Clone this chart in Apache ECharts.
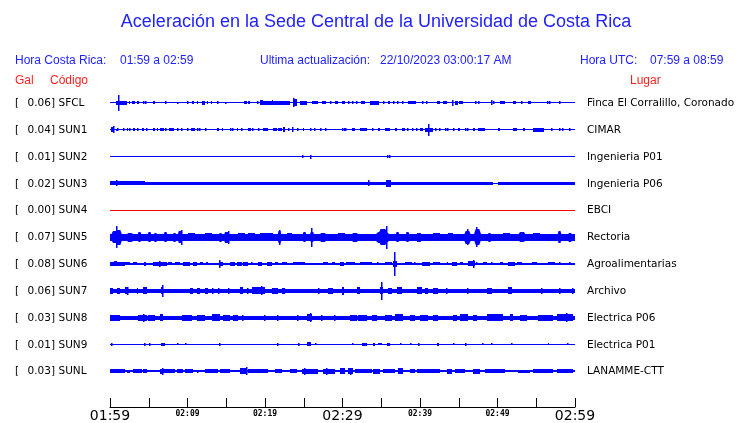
<!DOCTYPE html>
<html><head><meta charset="utf-8">
<script src="https://cdn.jsdelivr.net/npm/echarts@6/dist/echarts.min.js"></script>
<style>html,body{margin:0;padding:0;background:#fff}#c{width:740px;height:423px}</style>
</head><body><div id="c"></div>
<script>
// ---- DATA ----
const stations = ['SFCL','SUN1','SUN2','SUN3','SUN4','SUN5','SUN6','SUN7','SUN8','SUN9','SUNL'];
const galValues = ['0.06','0.04','0.01','0.02','0.00','0.07','0.08','0.06','0.03','0.01','0.03'];
const places = ['Finca El Corralillo, Coronado','CIMAR','Ingenieria P01','Ingenieria P06','EBCI','Rectoria','Agroalimentarias','Archivo','Electrica P06','Electrica P01','LANAMME-CTT'];
const tickLabels = ['01:59','','02:09','','02:19','','02:29','','02:39','','02:49','','02:59'];
// minutes after 01:59; baseline half-thickness of each trace
const baseAmp = [0.6,0.7,0.5,0.5,0.5,3.3,1,2,2,0.5,0.8];
// events: [start minute, end minute, half amplitude]
const evSFCL = [[0.77,2.19,2],[1.16,1.16,8],[2.40,2.55,1.5],[2.9,3.2,1.5],[3.5,3.7,1.5],[4.26,4.26,1.5],[4.52,4.52,1.5],[5.6,5.8,1.5],[7.1,7.1,1.5],[8.77,8.77,1.2],[9.94,9.94,1.5],[10.58,10.84,1.5],[11.23,11.3,1.5],[11.87,12.26,2],[12.52,12.6,1.5],[13.03,13.16,1.5],[13.81,13.81,1.5],[14.84,14.84,1.2],[17.29,17.7,1.5],[17.8,18.06,1.5],[18.97,18.97,1.5],[19.35,19.74,2.5],[19.74,23.23,1.8],[20.9,21.0,2.5],[22.2,22.3,2.2],[23.61,24.13,3.5],[23.74,23.74,4.5],[24.52,25.42,2],[26.06,26.84,1.5],[27.35,27.87,1.5],[28.39,28.39,1.5],[29.03,29.42,1.5],[29.94,30.32,1.5],[30.71,30.71,1.5],[31.35,31.35,1.5],[31.87,31.87,1.5],[32.39,32.9,1.5],[33.55,34.71,2],[35.23,35.23,1.5],[35.87,36.13,1.5],[36.52,36.52,1.5],[37.16,37.16,1.5],[37.68,37.68,1.5],[38.45,39.48,1.5],[40.26,40.26,1.5],[40.9,40.9,1.5],[42.19,42.58,1.5],[42.97,43.48,1.5],[44.13,44.13,3],[44.52,44.9,2],[45.03,45.55,1.5],[47.1,47.1,1.5],[47.61,47.61,1.5],[49.29,49.29,2.5],[49.42,49.42,1.5],[50.32,50.97,1.5],[52.0,52.39,1.5],[53.16,53.16,1.5],[53.94,54.32,1.5],[56.39,56.39,1.5],[56.77,56.77,1.5],[57.94,57.94,1.5]];
const evSUN1 = [[0.13,0.52,2.5],[0.39,0.39,3.5],[0.9,0.9,1],[1.03,1.03,1.5],[1.68,1.68,1.5],[2.19,2.32,1.5],[2.58,2.58,1.5],[2.97,3.23,1.5],[3.61,3.61,1.5],[4.13,4.39,1.5],[4.77,4.77,1.5],[5.55,5.81,1.5],[6.06,6.19,1.5],[6.45,6.97,1.5],[7.1,7.1,1.5],[7.61,8.26,1.5],[8.65,8.65,1.5],[9.29,9.29,1.5],[9.94,9.94,1.5],[10.45,10.97,1.5],[11.23,11.23,1.5],[11.61,11.61,1.5],[12.26,12.26,1.5],[13.81,14.06,1.5],[14.45,14.58,1.5],[15.61,15.61,1.5],[15.87,15.87,1.5],[16.39,16.52,1.5],[17.03,17.03,1.5],[17.81,18.19,1.5],[18.45,18.45,1.5],[19.1,19.1,1.5],[19.74,20.39,1.5],[21.03,21.55,1.5],[21.68,22.19,1.5],[22.32,22.58,2.5],[22.97,22.97,1.5],[23.61,23.61,2.5],[24.13,24.13,1.5],[24.9,25.03,1.5],[25.81,25.81,1.5],[26.45,26.45,1.5],[27.1,27.1,1.5],[27.87,27.87,1.5],[30.06,30.06,1.5],[30.32,30.32,1.5],[30.45,30.45,1.5],[31.23,31.61,1.5],[32.26,33.16,1.5],[33.81,33.81,1.5],[34.58,34.84,1.5],[35.48,36.13,1.5],[36.77,37.03,1.5],[37.68,38.06,1.5],[38.45,38.45,1.5],[38.97,38.97,1.5],[39.61,39.61,1.5],[40.0,40.39,1.5],[40.65,41.68,2],[41.16,41.16,6],[41.94,41.94,1.5],[42.58,42.58,1.5],[43.23,43.23,1.5],[43.61,43.61,1.5],[44.26,44.26,1.5],[44.9,45.16,1.5],[45.81,45.81,1.5],[46.19,46.19,1.5],[46.84,47.1,1.5],[47.48,48.39,1.5],[50.06,50.32,1.5],[52.0,52.52,1.5],[53.29,53.55,1.5],[54.58,56.0,2],[57.03,57.03,1.5],[58.06,58.06,1.5],[58.45,58.45,1.5],[59.35,59.35,1.5]];
const evSUN2 = [[24.9,24.9,1.5],[25.81,25.81,1.8],[35.87,35.87,1.5],[36.0,36.0,1.5]];
const evSUN3 = [[0,49.4,1.7],[50.1,60,1.7],[0,4.5,2],[0.9,0.9,3],[33.4,33.4,3],[35.6,36.3,3.5]];
const evSUN4 = [];
const evSUN5 = [[0,1.3,6],[0.5,1.7,7.5],[0.9,0.9,11],[1.94,3.23,4.5],[3.48,4.13,5],[4.77,5.42,5],[5.55,6.19,4.5],[6.84,7.48,5],[8.0,8.65,4.5],[8.65,9.42,6],[9.29,9.29,7.5],[10.06,10.97,4],[12.26,13.16,4],[13.94,14.58,4.5],[14.58,15.48,5.5],[15.35,15.35,6.5],[16.52,17.42,4],[17.81,18.71,4],[19.35,21.03,4],[21.55,22.19,6],[21.81,21.81,7.5],[22.84,23.48,4],[24.77,25.42,5],[25.68,26.45,5],[26.06,26.06,9.5],[26.84,28.13,4.5],[29.42,30.32,4],[30.97,32.26,4.5],[33.81,36.52,5.5],[34.5,36.0,8],[35.74,35.74,11.5],[36.77,37.42,5],[38.06,38.71,5],[39.35,40.39,4.5],[41.68,42.58,4],[43.61,44.26,4],[45.55,46.71,6.5],[46.19,46.19,8],[46.84,48.0,8],[47.35,47.35,10],[48.65,49.29,4.5],[50.71,51.61,4],[52.52,53.81,5],[54.58,55.48,4],[57.68,58.32,6],[58.97,59.74,4.5]];
const evSUN6 = [[0,1.94,2],[0.5,0.9,2.5],[1.94,2.58,1.5],[2.97,3.48,1.5],[4.39,4.65,2],[5.55,7.35,2],[6.45,6.45,3],[7.48,8.0,1.5],[8.39,9.03,1.5],[9.42,10.32,2],[10.71,11.23,2],[11.61,12.0,1.5],[12.39,12.65,1.5],[14.0,14.58,2],[14.19,14.19,4],[15.48,16.13,2],[16.39,17.03,2],[17.16,17.81,2],[18.32,18.32,1.5],[19.1,19.61,2],[20.26,20.9,2],[21.29,21.68,1.5],[22.19,22.84,1.5],[23.61,25.16,1.5],[27.48,28.13,1.5],[28.65,29.03,1.5],[29.68,30.19,2],[30.45,31.61,1.5],[32.26,33.81,1.5],[34.58,34.58,1.5],[35.48,36.39,1.5],[36.52,37.03,3],[36.77,36.77,12],[38.06,38.97,1.5],[39.35,39.35,1.5],[40.26,41.29,2],[41.68,42.58,1.5],[43.48,43.61,1.5],[44.13,44.77,2],[45.16,45.55,1.5],[46.19,47.1,2.5],[46.84,46.84,4],[47.35,47.35,1.5],[48.13,48.65,1.5],[49.29,49.29,1.5],[50.32,50.71,1.5],[51.35,52.26,2],[52.52,53.16,1.5],[54.45,55.1,1.5],[56.52,57.42,1.5],[58.06,58.06,1.5],[59.35,59.35,1.5]];
const evSUN7 = [[0,0.39,3],[0.9,1.29,3],[1.94,2.32,3.5],[2.32,2.32,4],[3.48,3.61,3],[4.26,4.77,3.5],[6.58,6.84,3.5],[6.71,6.71,6],[10.32,10.71,3],[11.23,11.61,3],[12.26,12.65,3],[13.29,13.29,3],[13.94,13.94,3],[15.23,15.23,3],[16.77,17.16,3.5],[17.68,17.68,3],[18.32,19.94,3.5],[19.61,19.61,4.5],[20.9,21.68,3],[22.19,22.58,3],[26.84,26.84,3],[28.13,28.77,3],[29.94,30.19,4],[31.87,32.26,3.5],[34.84,35.23,3.5],[34.97,34.97,9],[35.87,36.39,3],[37.03,37.68,3.5],[39.61,40.26,3.5],[40.65,41.03,3],[41.68,42.32,3],[43.48,43.48,3],[46.19,46.19,3],[48.65,49.29,3],[51.35,51.87,3.5],[55.74,55.74,3],[58.06,58.06,3],[59.74,59.74,3]];
const evSUN8 = [[0,1.29,3],[3.61,4.77,3],[4.26,4.26,4],[4.9,5.81,3],[6.45,6.84,3.5],[9.29,10.58,3],[11.23,12.26,3],[13.16,14.19,3.5],[14.58,15.48,3],[15.87,16.52,3],[17.16,17.16,3],[19.94,19.94,3],[21.55,21.55,3],[24.13,24.13,3],[25.42,26.06,3.5],[25.81,25.81,4.5],[27.35,27.35,3],[29.03,29.03,3],[30.97,31.87,3],[32.0,33.16,3],[33.81,34.45,3],[35.48,36.39,3],[36.77,37.81,3.5],[38.71,39.35,3],[40.0,41.03,3],[41.68,42.32,3],[44.26,44.77,3],[45.16,46.19,3.5],[46.84,47.35,3],[48.65,50.71,3.5],[51.61,52.0,3.5],[52.9,53.81,3],[55.23,57.16,3],[57.68,59.74,3.5],[58.84,58.84,4.5]];
const evSUN9 = [[0.13,0.13,1.5],[4.39,4.39,1.5],[5.16,5.16,1.5],[6.58,7.1,1.5],[8.77,8.77,1],[9.68,9.68,1],[14.19,14.19,1.5],[21.55,21.55,1.5],[24.26,24.26,1.5],[25.42,25.94,2],[26.58,26.58,1],[31.35,31.35,1],[32.52,33.16,1.5],[33.94,34.19,1.5],[34.58,35.1,1],[35.74,36.13,1.5],[37.42,37.42,1],[38.71,38.71,1],[39.87,39.87,1.5],[42.19,42.45,1.5],[44.26,44.26,1],[45.81,45.81,1.5],[48.0,48.0,1],[49.29,49.29,1],[51.87,51.87,1],[56.52,56.7,1],[58.97,58.97,1]];
const evSUNL = [[0,1.94,2],[2.19,2.58,1.5],[2.97,4.13,2],[4.26,4.77,2],[6.45,6.84,2.5],[6.71,6.71,3.5],[6.84,8.39,2],[8.65,9.42,2],[9.68,10.71,2],[11.23,11.23,1.5],[12.26,13.94,2],[14.19,15.48,2],[16.77,17.68,3],[17.55,17.55,4],[17.81,20.39,2],[21.29,22.19,2],[23.23,24.13,2],[24.77,26.84,2.5],[25.16,25.16,3.5],[27.48,29.03,2.5],[27.9,27.9,3.5],[29.68,30.32,3],[30.71,31.35,3],[31.0,31.0,3.5],[31.61,33.81,2],[33.94,34.84,2.5],[35.23,36.77,2],[37.16,37.81,3],[38.71,39.35,2],[39.61,42.58,2],[43.48,44.13,2.5],[44.52,45.81,2],[46.84,47.74,2.5],[48.39,50.97,2],[52.65,54.19,1.5],[54.58,57.16,2],[57.68,59.74,2]];
const stationEvents = [evSFCL,evSUN1,evSUN2,evSUN3,evSUN4,evSUN5,evSUN6,evSUN7,evSUN8,evSUN9,evSUNL];

// ---- CHART ----
const ROW = 27;
const BLUE = '#0000ff', RED = '#ff0000';
const HEAD_BLUE = '#2222ff', HEAD_RED = '#ff2222';
const chart = echarts.init(document.getElementById('c'), null, {renderer:'canvas'});

function traceSeries(row) {
  const color = stations[row] === 'SUN4' ? RED : BLUE;
  const data = [[0, 60, baseAmp[row]]].concat(stationEvents[row]);
  return {
    type: 'custom', coordinateSystem: 'cartesian2d', clip: false, silent: true, animation: false,
    data: data,
    renderItem: function (params, api) {
      const t0 = api.value(0), t1 = api.value(1), a = api.value(2);
      const yc = row * ROW;
      const p0 = api.coord([t0, yc - a]);
      const p1 = api.coord([t1, yc + a]);
      const cy = (p0[1] + p1[1]) / 2;
      const ha = Math.abs(p1[1] - p0[1]) / 2;
      let x = Math.round(p0[0]);
      let w = Math.round(p1[0]) - x;
      if (w < 1) { x = Math.round((p0[0] + p1[0]) / 2 - 0.5); w = 1.5; }
      const h = Math.max(1, Math.round(2 * ha));
      const y = Math.round(cy - h / 2);
      if (ha >= 4 && w >= 4 && params.dataIndex > 0) {
        // burst: spindle-shaped envelope
        const r = w * 0.3, ym = y + h / 2;
        return { type: 'polygon', shape: { points: [[x, ym], [x + r, y], [x + w - r, y], [x + w, ym], [x + w - r, y + h], [x + r, y + h]] }, style: { fill: color } };
      }
      return { type: 'rect', shape: { x: x, y: y, width: w, height: h }, style: { fill: color } };
    }
  };
}

const labelSeries = {
  type: 'custom', coordinateSystem: 'cartesian2d', clip: false, silent: true, animation: false,
  data: stations.map((s, i) => [0, i]),
  renderItem: function (params, api) {
    const i = api.value(1);
    const pl = api.coord([0, i * ROW]);
    const pr = api.coord([60, i * ROW]);
    const font = '10.5px "DejaVu Sans"';
    const mk = (text, x, align) => ({ type: 'text', style: { text: text, x: x, y: pl[1] + 0.5, fill: '#000', font: font, align: align, verticalAlign: 'middle' } });
    return { type: 'group', children: [
      mk('[', pl[0] - 95, 'left'),
      mk(galValues[i] + ']', pl[0] - 55, 'right'),
      mk(stations[i], pl[0] - 51.5, 'left'),
      mk(places[i], pr[0] + 12, 'left')
    ] };
  }
};

const bigTicks = [0, 30, 60];
const option = {
  animation: false,
  backgroundColor: '#fff',
  grid: { left: 110, right: 165, top: 76, bottom: 14, containLabel: false },
  xAxis: {
    type: 'value', min: 0, max: 60, interval: 5, position: 'bottom',
    axisLine: { show: true, onZero: false, lineStyle: { color: '#000', width: 1 } },
    axisTick: { show: true, inside: true, length: 9, lineStyle: { color: '#000', width: 1 } },
    splitLine: { show: false },
    axisLabel: {
      show: true, margin: 1, showMinLabel: true, showMaxLabel: true, hideOverlap: false,
      formatter: function (v) {
        const s = tickLabels[Math.round(v / 5)] || '';
        if (!s) return '';
        return bigTicks.indexOf(v) >= 0 ? '{b|' + s + '}' : '{s|' + s + '}';
      },
      rich: {
        b: { fontSize: 14, fontFamily: 'DejaVu Sans', color: '#000', lineHeight: 16 },
        s: { fontSize: 8, fontFamily: 'DejaVu Sans Mono', fontWeight: 'bold', color: '#000', lineHeight: 12 }
      }
    }
  },
  yAxis: { type: 'value', min: -ROW, max: 10 * ROW + 36, inverse: true, show: false, splitLine: { show: false } },
  graphic: [
    { type: 'text', x: 376, y: 22, style: { text: 'Aceleración en la Sede Central de la Universidad de Costa Rica', font: '18px "Liberation Sans"', fill: HEAD_BLUE, align: 'center', verticalAlign: 'middle' } },
    { type: 'text', x: 15, y: 61, style: { text: 'Hora Costa Rica:', font: '12px "Liberation Sans"', fill: HEAD_BLUE, verticalAlign: 'middle' } },
    { type: 'text', x: 120, y: 61, style: { text: '01:59 a 02:59', font: '12px "Liberation Sans"', fill: HEAD_BLUE, verticalAlign: 'middle' } },
    { type: 'text', x: 260, y: 61, style: { text: 'Ultima actualización:', font: '12px "Liberation Sans"', fill: HEAD_BLUE, verticalAlign: 'middle' } },
    { type: 'text', x: 380, y: 61, style: { text: '22/10/2023 03:00:17 AM', font: '12px "Liberation Sans"', fill: HEAD_BLUE, verticalAlign: 'middle' } },
    { type: 'text', x: 580, y: 61, style: { text: 'Hora UTC:', font: '12px "Liberation Sans"', fill: HEAD_BLUE, verticalAlign: 'middle' } },
    { type: 'text', x: 650, y: 61, style: { text: '07:59 a 08:59', font: '12px "Liberation Sans"', fill: HEAD_BLUE, verticalAlign: 'middle' } },
    { type: 'text', x: 15, y: 81, style: { text: 'Gal', font: '12px "Liberation Sans"', fill: HEAD_RED, verticalAlign: 'middle' } },
    { type: 'text', x: 50, y: 81, style: { text: 'Código', font: '12px "Liberation Sans"', fill: HEAD_RED, verticalAlign: 'middle' } },
    { type: 'text', x: 630, y: 81, style: { text: 'Lugar', font: '12px "Liberation Sans"', fill: HEAD_RED, verticalAlign: 'middle' } }
  ],
  series: stations.map((s, i) => traceSeries(i)).concat([labelSeries])
};
chart.setOption(option);
</script>
</body></html>
